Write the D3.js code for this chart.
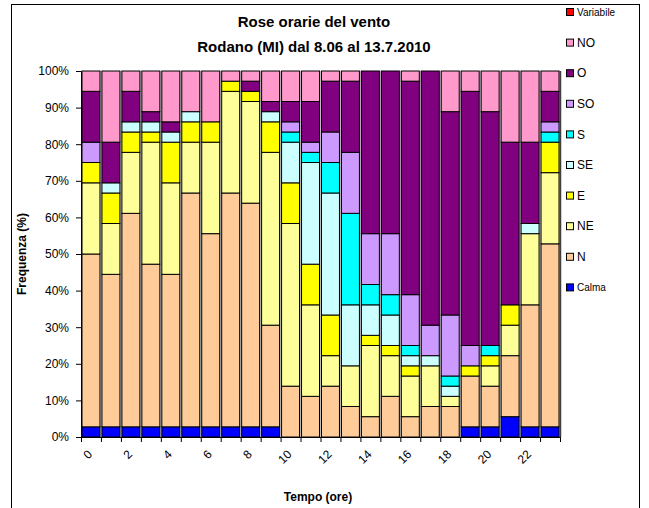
<!DOCTYPE html>
<html>
<head>
<meta charset="utf-8">
<script src="https://cdn.jsdelivr.net/npm/d3@7"></script>
<style>
  html, body { margin: 0; padding: 0; background: #fff; }
  svg { display: block; font-family: "Liberation Sans", Arial, sans-serif; }
</style>
</head>
<body>
<svg id="chart" width="649" height="508"></svg>
<script>
// ---- Data (number of days out of 36, per hour and wind direction) ----
const hours = ["0","1","2","3","4","5","6","7","8","9","10","11","12","13","14","15","16","17","18","19","20","21","22","23"];
const xTickLabels = ["0","2","4","6","8","10","12","14","16","18","20","22"];
const yTicks = [0, 0.1, 0.2, 0.3, 0.4, 0.5, 0.6, 0.7, 0.8, 0.9, 1.0];

const calma     = [1,1,1,1,1,1,1,1,1,1,0,0,0,0,0,0,0,0,0,1,1,2,1,1];
const nord      = [17,15,21,16,15,23,19,23,22,10,5,4,5,3,2,4,2,3,3,5,4,6,12,18];
const nordEst   = [7,5,6,12,9,5,9,10,10,17,16,9,3,4,7,4,4,4,1,0,2,3,7,7];
const est       = [2,3,2,1,4,2,2,1,1,3,4,4,4,0,1,1,1,0,0,1,1,2,0,3];
const sudEst    = [0,1,1,1,1,1,0,0,0,1,4,10,12,6,3,3,1,1,1,0,0,0,1,0];
const sud       = [0,0,0,0,0,0,0,0,0,0,1,1,3,9,2,2,1,0,1,0,1,0,0,1];
const sudOvest  = [2,0,0,0,0,0,0,0,0,0,1,1,3,6,5,6,5,3,6,2,0,0,0,1];
const ovest     = [5,4,3,1,1,0,0,0,1,1,2,4,5,7,16,16,21,25,20,25,23,16,8,3];
const nordOvest = [2,7,2,4,5,4,5,1,1,3,3,3,1,1,0,0,1,0,4,2,4,7,7,2];
const variabile = [0,0,0,0,0,0,0,0,0,0,0,0,0,0,0,0,0,0,0,0,0,0,0,0];

const seriesNames  = ["Calma","N","NE","E","SE","S","SO","O","NO","Variabile"];
const seriesValues = [calma, nord, nordEst, est, sudEst, sud, sudOvest, ovest, nordOvest, variabile];
const seriesColors = ["#0000FF","#FFCC99","#FFFF99","#FFFF00","#CCFFFF","#00FFFF","#CC99FF","#800080","#FF99CC","#FF0000"];

// ---- Build table ----
const table = hours.map((h, i) => {
  const row = { hour: h };
  seriesNames.forEach((s, k) => row[s] = seriesValues[k][i]);
  return row;
});
const stacked = d3.stack().keys(seriesNames).offset(d3.stackOffsetExpand)(table);

// ---- Layout ----
const svg = d3.select("#chart");
const plot = { left: 81, right: 560, top: 71, bottom: 437 };

// outer chart border
svg.append("rect").attr("x", 11.5).attr("y", 4.5).attr("width", 628).attr("height", 520)
  .attr("fill", "#fff").attr("stroke", "#000").attr("stroke-width", 1);

const x = d3.scaleBand().domain(hours).range([plot.left, plot.right]).paddingInner(0.1).paddingOuter(0.05);
const xb = d3.scaleLinear().domain([0, hours.length]).range([plot.left, plot.right]);
const y = d3.scaleLinear().domain([0, 1]).range([plot.bottom, plot.top]);
const color = d3.scaleOrdinal().domain(seriesNames).range(seriesColors);

// plot area
svg.append("rect").attr("x", plot.left).attr("y", plot.top)
  .attr("width", plot.right - plot.left).attr("height", plot.bottom - plot.top)
  .attr("fill", "#c0c0c0").attr("stroke", "none");
svg.append("line").attr("x1", plot.right + 0.5).attr("x2", plot.right + 0.5)
  .attr("y1", plot.top).attr("y2", plot.bottom).attr("stroke", "#404040").attr("stroke-width", 1.5);

// bars
svg.append("g").selectAll("g").data(stacked).join("g")
  .attr("fill", d => color(d.key))
  .selectAll("rect").data(d => d.filter(p => p[1] - p[0] > 1e-9)).join("rect")
  .attr("x", d => x(d.data.hour))
  .attr("width", x.bandwidth())
  .attr("y", d => y(d[1]))
  .attr("height", d => y(d[0]) - y(d[1]))
  .attr("stroke", "#000").attr("stroke-width", 1);

// y axis
const yAxis = svg.append("g").attr("transform", `translate(${plot.left},0)`)
  .call(d3.axisLeft(y).tickValues(yTicks).tickFormat(d3.format(".0%")).tickSize(5).tickSizeOuter(0));
yAxis.select(".domain").attr("stroke", "#000");
yAxis.selectAll("text").attr("font-size", 12).attr("fill", "#000")
  .attr("font-family", "Liberation Sans, Arial, sans-serif").attr("x", -12);

// x axis (ticks between categories)
const xAxis = svg.append("g").attr("transform", `translate(0,${plot.bottom})`)
  .call(d3.axisBottom(xb).tickValues(d3.range(hours.length + 1)).tickFormat("").tickSize(5).tickSizeOuter(0));
xAxis.select(".domain").attr("stroke", "#000");

svg.append("g").selectAll("text").data(xTickLabels).join("text")
  .attr("transform", d => `translate(${x(d) + x.bandwidth() / 2 - 1},${plot.bottom + 15}) rotate(-45)`)
  .attr("text-anchor", "end")
  .attr("dy", "0.35em")
  .attr("font-size", 12)
  .text(d => d);

// titles
svg.append("text").attr("x", 314).attr("y", 27).attr("text-anchor", "middle")
  .attr("font-size", 15).attr("font-weight", "bold").text("Rose orarie del vento");
svg.append("text").attr("x", 314).attr("y", 52).attr("text-anchor", "middle")
  .attr("font-size", 15).attr("font-weight", "bold").text("Rodano (MI) dal 8.06 al 13.7.2010");

svg.append("text").attr("x", 318).attr("y", 501).attr("text-anchor", "middle")
  .attr("font-size", 12).attr("font-weight", "bold").text("Tempo (ore)");
svg.append("text").attr("transform", "translate(26,254) rotate(-90)").attr("text-anchor", "middle")
  .attr("font-size", 12).attr("font-weight", "bold").text("Frequenza (%)");

// legend (top entry = last series)
const legendItems = seriesNames.slice().reverse();
const lg = svg.append("g").selectAll("g").data(legendItems).join("g")
  .attr("transform", (d, i) => `translate(566,${12 + i * 30.6})`);
lg.append("rect").attr("x", 0.5).attr("y", -3.5).attr("width", 7).attr("height", 7)
  .attr("fill", d => color(d)).attr("stroke", "#000").attr("stroke-width", 1);
lg.append("text").attr("x", 11).attr("y", 0).attr("dy", "0.35em")
  .attr("font-size", d => (d === "Variabile" || d === "Calma") ? 10 : 12)
  .text(d => d);
</script>
</body>
</html>
